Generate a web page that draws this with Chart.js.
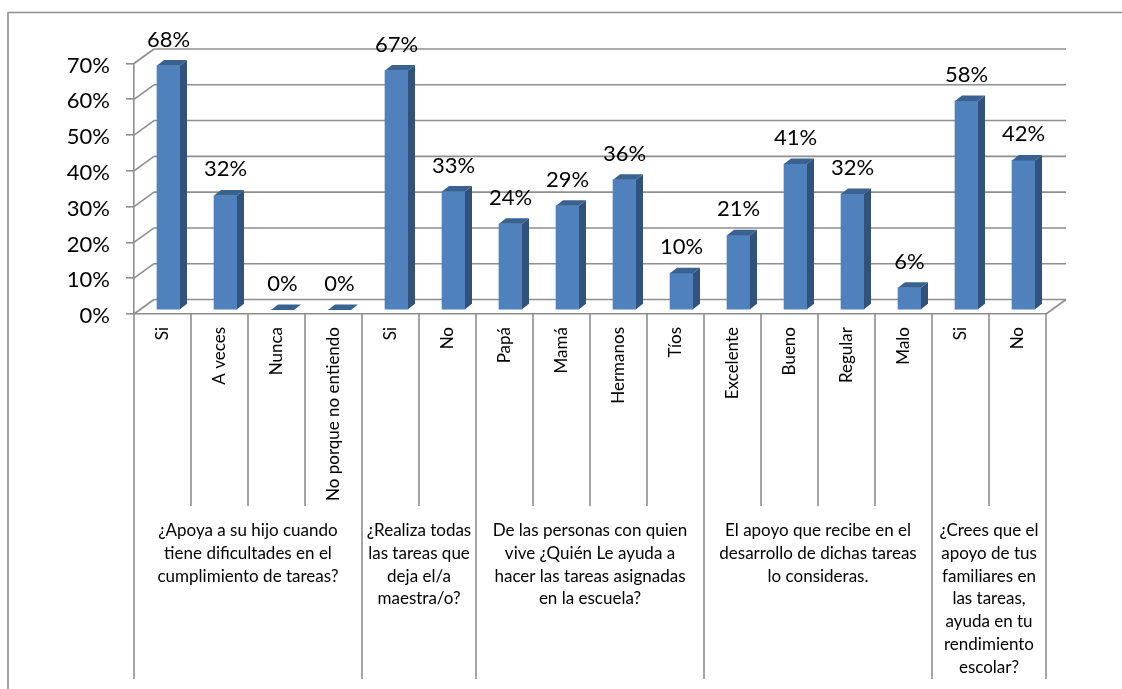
<!DOCTYPE html>
<html>
<head>
<meta charset="utf-8">
<title>Chart</title>
<script src="https://cdn.jsdelivr.net/npm/chart.js@4"></script>
<style>
html, body { margin: 0; padding: 0; background: #fff; overflow: hidden; }
#wrap { width: 1122px; height: 689px; }
</style>
</head>
<body>
<div id="wrap"><canvas id="myChart" width="1122" height="689"></canvas></div>
<script>
const categories = ["Si", "A veces", "Nunca", "No porque no entiendo", "Si", "No", "Papá", "Mamá", "Hermanos", "Tíos", "Excelente", "Bueno", "Regular", "Malo", "Si", "No"];
const values = [68.3, 32, 0, 0, 66.9, 33.1, 24.1, 29.1, 36.4, 10.3, 20.9, 40.8, 32.4, 6.2, 58.4, 41.8];
const yTicks = [0, 10, 20, 30, 40, 50, 60, 70];
const groupSizes = [4, 2, 4, 4, 2];
const groupLabels = [
    ["¿Apoya a su hijo cuando", "tiene dificultades en el", "cumplimiento de tareas?"],
    ["¿Realiza todas", "las tareas que", "deja el/a", "maestra/o?"],
    ["De las personas con quien", "vive ¿Quién Le ayuda a", "hacer las tareas asignadas", "en la escuela?"],
    ["El apoyo que recibe en el", "desarrollo de dichas tareas", "lo consideras."],
    ["¿Crees que el", "apoyo de tus", "familiares en", "las tareas,", "ayuda en tu", "rendimiento", "escolar?"]
];

const gridColor = "#8e8e8e";
const fontName = "Lato, Carlito, sans-serif";
const wallX = 20, wallY = 14.5;   // depth of the back wall
const barX = 6, barY = 4;         // bars stand a bit behind the front edge
const sideX = 7, sideY = 5.5;     // depth of a bar

function line(ctx, x1, y1, x2, y2) {
    ctx.beginPath();
    ctx.moveTo(x1, y1);
    ctx.lineTo(x2, y2);
    ctx.stroke();
}

function poly(ctx, color, pts) {
    ctx.fillStyle = color;
    ctx.beginPath();
    pts.forEach((p, i) => i ? ctx.lineTo(p[0], p[1]) : ctx.moveTo(p[0], p[1]));
    ctx.closePath();
    ctx.fill();
}

const wallsPlugin = {
    id: "walls",
    afterLayout(chart) {
        // tick labels sit slightly under their tick in the original
        const y = chart.scales.y;
        const drawLabels = y.drawLabels;
        y.drawLabels = function (area) {
            this.ctx.save();
            this.ctx.translate(0, 2);
            drawLabels.call(this, area);
            this.ctx.restore();
        };
    },
    beforeDatasetsDraw(chart) {
        const { ctx, chartArea: a, scales: { x, y } } = chart;
        ctx.save();
        ctx.strokeStyle = gridColor;
        ctx.lineWidth = 1.6;
        // outer frame
        line(ctx, 8, 12.5, 1122, 12.5);
        line(ctx, 8, 12, 8, 689);
        // back wall lines with their diagonal to the front axis
        yTicks.forEach(v => {
            const py = y.getPixelForValue(v);
            line(ctx, a.left, py, a.left + wallX, py - wallY);
            line(ctx, a.left + wallX, py - wallY, a.right + wallX, py - wallY);
        });
        line(ctx, a.right, a.bottom, a.right + wallX, a.bottom - wallY);
        // category separators, long ones between groups
        const halfStep = (x.getPixelForValue(1) - x.getPixelForValue(0)) / 2;
        let next = 0, g = 0;
        for (let i = 0; i <= categories.length; i++) {
            const px = i < categories.length ? x.getPixelForValue(i) - halfStep : x.getPixelForValue(i - 1) + halfStep;
            const isGroup = i === next;
            line(ctx, px, a.bottom, px, isGroup ? 679 : 506);
            if (isGroup && g < groupSizes.length) {
                next += groupSizes[g];
                g++;
            }
        }
        // group captions
        ctx.fillStyle = "#000";
        ctx.font = "17px " + fontName;
        ctx.textAlign = "center";
        ctx.textBaseline = "alphabetic";
        let start = 0;
        groupLabels.forEach((rows, k) => {
            const end = start + groupSizes[k] - 1;
            const cx = (x.getPixelForValue(start) + x.getPixelForValue(end)) / 2;
            rows.forEach((t, r) => ctx.fillText(t, cx, 536 + r * 22.8));
            start = end + 1;
        });
        ctx.restore();
    },
    beforeDatasetDraw(chart) {
        const ctx = chart.ctx;
        ctx.save();
        ctx.translate(barX, -barY);
    },
    afterDatasetDraw(chart) {
        const ctx = chart.ctx;
        chart.getDatasetMeta(0).data.forEach(bar => {
            const l = bar.x - bar.width / 2, r = bar.x + bar.width / 2;
            poly(ctx, "#31527c", [[r, bar.y], [r + sideX, bar.y - sideY], [r + sideX, bar.base - sideY], [r, bar.base]]);
            poly(ctx, "#3a6291", [[l, bar.y], [l + sideX, bar.y - sideY], [r + sideX, bar.y - sideY], [r, bar.y]]);
        });
        ctx.restore();
        // value labels
        ctx.save();
        ctx.fillStyle = "#000";
        ctx.font = "22px " + fontName;
        ctx.textAlign = "center";
        ctx.textBaseline = "alphabetic";
        chart.getDatasetMeta(0).data.forEach((bar, i) => {
            ctx.fillText(Math.round(values[i]) + "%", bar.x + barX, bar.y - barY - 19);
        });
        ctx.restore();
    }
};

new Chart(document.getElementById("myChart"), {
    type: "bar",
    data: {
        labels: categories,
        datasets: [{ data: values, backgroundColor: "#4f81bd", barThickness: 23, borderWidth: 0 }]
    },
    options: {
        responsive: false,
        animation: false,
        layout: { padding: { top: 63.5, right: 76, left: 0, bottom: 0 } },
        plugins: { legend: { display: false }, tooltip: { enabled: false }, title: { display: false } },
        scales: {
            x: {
                afterFit: s => { s.height = 375; },
                grid: { display: false },
                border: { display: true, color: gridColor, width: 1.6 },
                ticks: { autoSkip: false, maxRotation: 90, minRotation: 90, padding: 5, color: "#000", font: { family: fontName, size: 17 } }
            },
            y: {
                min: 0,
                max: 70,
                afterFit: s => { s.width = 134; },
                grid: { drawOnChartArea: false, tickLength: 8, color: gridColor, lineWidth: 1.6 },
                border: { display: true, color: gridColor, width: 1.6 },
                ticks: { stepSize: 10, padding: 16, color: "#000", font: { family: fontName, size: 22 }, callback: v => v + "%" }
            }
        }
    },
    plugins: [wallsPlugin]
});
</script>
</body>
</html>
